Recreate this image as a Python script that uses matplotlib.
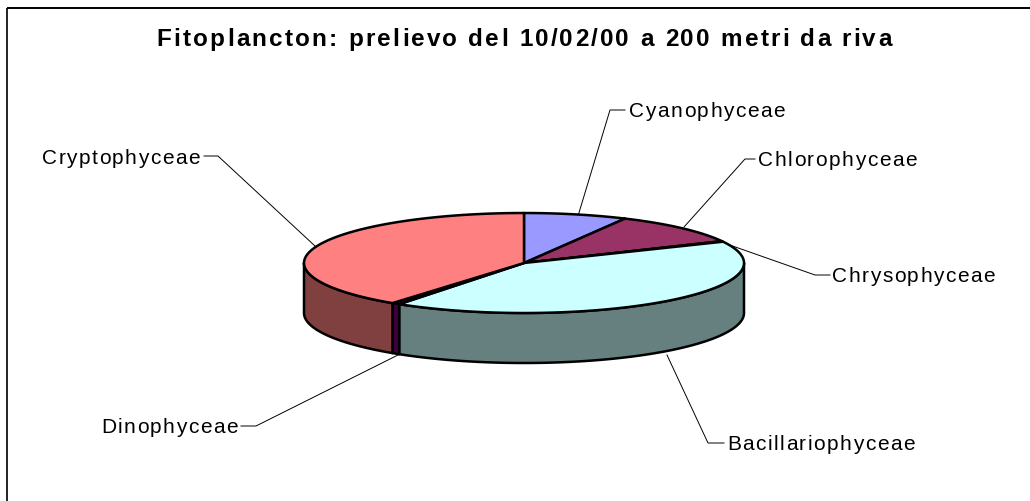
import numpy as np
import matplotlib
matplotlib.use("Agg")
import matplotlib.pyplot as plt
from matplotlib.text import Text
from matplotlib.transforms import IdentityTransform

categories = ["Cyanophyceae", "Chlorophyceae", "Chrysophyceae",
              "Bacillariophyceae", "Dinophyceae", "Cryptophyceae"]
values = [7.6, 10.2, 0.2, 41.6, 0.6, 39.8]
top_colors = ["#9999FF", "#993366", "#FFFFCC", "#CCFFFF", "#660066", "#FF8080"]
side_colors = ["#5C5C99", "#5C1F3D", "#99997A", "#668080", "#3D003D", "#804040"]
title = "Fitoplancton: prelievo del 10/02/00 a 200 metri da riva"

W, H = 1030, 502
CX, CY, RX, RY, DEPTH = 524, 264, 220, 50, 50

plt.rcParams['font.family'] = ['Liberation Sans', 'DejaVu Sans']
fig = plt.figure(figsize=(W / 100, H / 100), dpi=100)
ax = fig.add_axes([0, 0, 1, 1])
ax.set_xlim(0, W)
ax.set_ylim(H, 0)
ax.axis("off")
LW = 1.8


class SpacedText(Text):
    """One text object that is drawn with extra space between its letters."""

    def __init__(self, *args, spacing=0.0, **kwargs):
        super().__init__(*args, **kwargs)
        self._spacing = spacing

    def _width(self, renderer, s):
        if not s:
            return 0.0
        w, _, _ = renderer.get_text_width_height_descent(
            s, self.get_fontproperties(), False)
        return w

    def _start(self, renderer):
        s = self.get_text()
        total = self._width(renderer, s) + self._spacing * (len(s) - 1)
        x, y = self.get_transform().transform(self.get_unitless_position())
        shift = {"left": 0.0, "center": total / 2, "right": total}[self.get_ha()]
        return x - shift, y, total

    def get_window_extent(self, renderer=None, dpi=None):
        renderer = renderer or self.get_figure().canvas.get_renderer()
        box = super().get_window_extent(renderer, dpi)
        x0, _, total = self._start(renderer)
        return matplotlib.transforms.Bbox.from_extents(x0, box.y0, x0 + total, box.y1)

    def draw(self, renderer):
        s = self.get_text()
        x0, y, _ = self._start(renderer)
        for i, ch in enumerate(s):
            if ch == " ":
                continue
            px = x0 + self._width(renderer, s[:i]) + i * self._spacing
            t = Text(px, y, ch, transform=IdentityTransform(), ha="left",
                     va="baseline", color=self.get_color(),
                     fontproperties=self.get_fontproperties())
            t.set_figure(self.get_figure())
            t.draw(renderer)


def pt(deg, dy=0):
    t = np.radians(deg)
    return CX + RX * np.sin(t), CY - RY * np.cos(t) + dy


edges = np.concatenate([[0], np.cumsum(values) / np.sum(values) * 360])

# frame: only the left and top rules are visible
ax.plot([7, 7], [H, 8.5], color="#222222", lw=1.4, zorder=1, solid_capstyle="butt")
ax.plot([7, W], [8.5, 8.5], color="black", lw=1.4, zorder=1, solid_capstyle="butt")

# sides, only the front half (90..270 degrees) is visible
for i in range(len(values)):
    a, b = max(edges[i], 90), min(edges[i + 1], 270)
    if b <= a:
        continue
    ts = np.linspace(a, b, 120)
    x, y = pt(ts)
    xs = np.r_[x, x[::-1]]
    ys = np.r_[y, (y + DEPTH)[::-1]]
    ax.fill(xs, ys, facecolor=side_colors[i], edgecolor="black", lw=LW,
            joinstyle="round", zorder=2)

# tops
for i in range(len(values)):
    ts = np.linspace(edges[i], edges[i + 1], 200)
    x, y = pt(ts)
    ax.fill(np.r_[CX, x], np.r_[CY, y], facecolor=top_colors[i],
            edgecolor="black", lw=LW, joinstyle="round", zorder=3)

# label anchor (x, baseline y, horizontal alignment)
label_pos = {
    "Cyanophyceae": (629, 117, "left"),
    "Chlorophyceae": (758, 166, "left"),
    "Chrysophyceae": (832, 282, "left"),
    "Bacillariophyceae": (727, 450, "left"),
    "Dinophyceae": (238, 433, "right"),
    "Cryptophyceae": (200, 164, "right"),
}
leader = {
    "Cyanophyceae": [(578, 217), (610, 111), (625, 111)],
    "Chlorophyceae": [(684, 228), (745, 160), (755, 160)],
    "Chrysophyceae": [(724, 244), (815, 276), (830, 276)],
    "Bacillariophyceae": [(667, 356), (708, 444), (724, 444)],
    "Dinophyceae": [(400, 355), (256, 427), (241, 427)],
    "Cryptophyceae": [(315, 247), (218, 157), (204, 157)],
}
for name in categories:
    xs, ys = zip(*leader[name])
    ax.plot(xs, ys, color="black", lw=0.7, zorder=1)
    x, y, ha = label_pos[name]
    ax.add_artist(SpacedText(x, y, name, ha=ha, va="baseline", fontsize=15,
                             color="black", spacing=1.5, zorder=4))

ax.add_artist(SpacedText(524, 46, title, ha="center", va="baseline", fontsize=17.5,
                         fontweight="bold", color="black", spacing=2.2, zorder=4))

fig.savefig("out.png", dpi=100, facecolor="white")
